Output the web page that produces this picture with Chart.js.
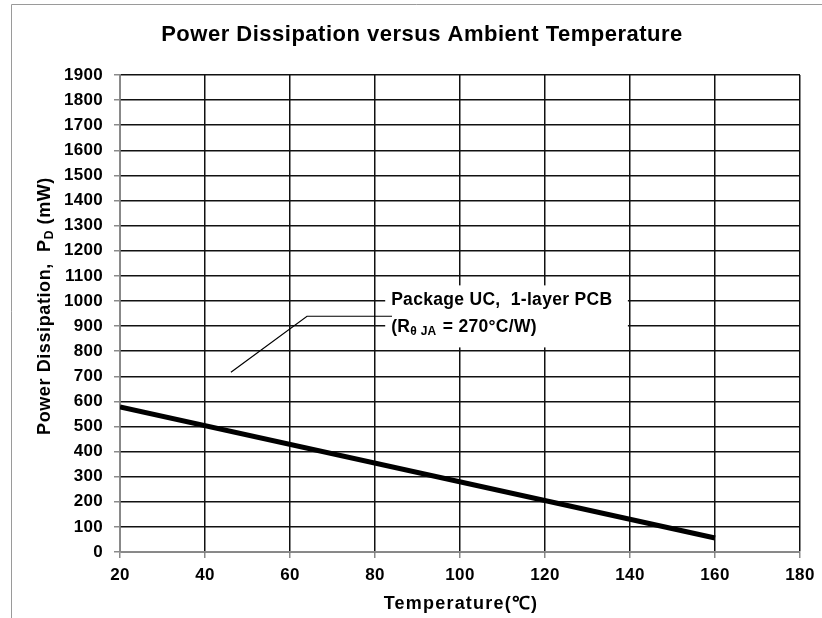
<!DOCTYPE html>
<html>
<head>
<meta charset="utf-8">
<script src="https://cdn.jsdelivr.net/npm/chart.js@4.4.1/dist/chart.umd.min.js"></script>
<style>
  html, body { margin: 0; padding: 0; background: #fff; }
  #wrap { position: relative; width: 822px; height: 618px; }
</style>
</head>
<body>
<div id="wrap"><canvas id="c" width="822" height="618"></canvas></div>
<script>
// ---- data ----
const temperatures = [20, 160];
const powerMW = [578, 56];
const xTicks = [20, 40, 60, 80, 100, 120, 140, 160, 180];
const yTicks = [0,100,200,300,400,500,600,700,800,900,1000,1100,1200,1300,1400,1500,1600,1700,1800,1900];
const chartTitle = 'Power Dissipation versus Ambient Temperature';
const xTitle = 'Temperature(\u2103)';
const yTitleMain = 'Power Dissipation,  P';
const yTitleSub = 'D';
const yTitleEnd = ' (mW)';
const noteLine1 = 'Package UC,  1-layer PCB';
const noteLine2Parts = ['(R', '\u03B8 JA', ' = 270\u00B0C/W)'];

const FONT = '"Liberation Sans", Arial, sans-serif';

const decor = {
  id: 'decor',
  beforeDraw(chart) {
    const ctx = chart.ctx;
    ctx.letterSpacing = '0.3px';
    ctx.save();
    ctx.fillStyle = '#fff';
    ctx.fillRect(0, 0, chart.width, chart.height);
    ctx.strokeStyle = '#9a9a9a';
    ctx.lineWidth = 1;
    ctx.beginPath();
    ctx.moveTo(11.5, 618);
    ctx.lineTo(11.5, 4.5);
    ctx.lineTo(822, 4.5);
    ctx.stroke();
    ctx.restore();
  },
  afterDraw(chart) {
    const ctx = chart.ctx;
    const xs = chart.scales.x, ys = chart.scales.y;
    ctx.save();
    ctx.fillStyle = '#000';
    // title
    ctx.letterSpacing = '0.5px';
    ctx.font = 'bold 22px ' + FONT;
    ctx.textAlign = 'center';
    ctx.textBaseline = 'middle';
    ctx.fillText(chartTitle, 422, 35);
    // x title
    ctx.letterSpacing = '1.2px';
    ctx.font = 'bold 18px ' + FONT;
    ctx.fillText(xTitle, 461, 604);
    // y title with subscript
    ctx.letterSpacing = '0.6px';
    ctx.translate(45, 306);
    ctx.rotate(-Math.PI / 2);
    ctx.textAlign = 'left';
    const fMain = 'bold 18px ' + FONT, fSub = 'bold 12px ' + FONT;
    ctx.font = fMain; const w1 = ctx.measureText(yTitleMain).width;
    ctx.font = fSub; const w2 = ctx.measureText(yTitleSub).width;
    ctx.font = fMain; const w3 = ctx.measureText(yTitleEnd).width;
    let x0 = -(w1 + w2 + w3) / 2;
    ctx.font = fMain; ctx.fillText(yTitleMain, x0, 0);
    ctx.font = fSub; ctx.fillText(yTitleSub, x0 + w1, 5);
    ctx.font = fMain; ctx.fillText(yTitleEnd, x0 + w1 + w2, 0);
    ctx.restore();

    // annotation (positions in data units)
    ctx.save();
    const bx1 = xs.getPixelForValue(82.4), bx2 = xs.getPixelForValue(139.5);
    const by1 = ys.getPixelForValue(1062), by2 = ys.getPixelForValue(815);
    ctx.fillStyle = '#fff';
    ctx.fillRect(bx1, by1, bx2 - bx1, by2 - by1);
    ctx.strokeStyle = '#000';
    ctx.lineWidth = 1.2;
    ctx.beginPath();
    ctx.moveTo(xs.getPixelForValue(46.1), ys.getPixelForValue(716));
    ctx.lineTo(xs.getPixelForValue(64), ys.getPixelForValue(939));
    ctx.lineTo(xs.getPixelForValue(84), ys.getPixelForValue(939));
    ctx.stroke();
    ctx.fillStyle = '#000';
    ctx.textAlign = 'left';
    ctx.textBaseline = 'middle';
    ctx.letterSpacing = '0.3px';
    const tx = xs.getPixelForValue(83.8);
    ctx.font = 'bold 17.5px ' + FONT;
    ctx.fillText(noteLine1, tx, ys.getPixelForValue(1002));
    const ty2 = ys.getPixelForValue(895);
    let cx = tx;
    ctx.fillText(noteLine2Parts[0], cx, ty2); cx += ctx.measureText(noteLine2Parts[0]).width;
    ctx.font = 'bold 12px ' + FONT;
    ctx.fillText(noteLine2Parts[1], cx, ty2 + 4); cx += ctx.measureText(noteLine2Parts[1]).width + 1;
    ctx.font = 'bold 17.5px ' + FONT;
    ctx.fillText(noteLine2Parts[2], cx, ty2);
    ctx.restore();
  }
};

const tickFont = { family: FONT, size: 17, weight: 'bold' };

new Chart(document.getElementById('c'), {
  type: 'line',
  data: {
    datasets: [{
      data: temperatures.map((t, i) => ({ x: t, y: powerMW[i] })),
      borderColor: '#000',
      borderWidth: 5,
      pointRadius: 0,
      fill: false,
      tension: 0
    }]
  },
  options: {
    responsive: false,
    animation: false,
    devicePixelRatio: 1,
    layout: { padding: { top: 75, right: 22, left: 0, bottom: 0 } },
    plugins: { legend: { display: false }, tooltip: { enabled: false }, title: { display: false } },
    scales: {
      x: {
        type: 'linear',
        min: 20, max: 180,
        afterBuildTicks(s) { s.ticks = xTicks.map(v => ({ value: v })); },
        afterFit(s) { s.height = 66; },
        grid: { color: '#111', lineWidth: 1.5, tickColor: '#8a8a8a', tickLength: 6 },
        border: { color: '#8a8a8a', width: 1.5 },
        ticks: { color: '#000', font: tickFont, padding: 7, maxRotation: 0, callback: v => String(v) }
      },
      y: {
        type: 'linear',
        min: 0, max: 1900,
        afterBuildTicks(s) { s.ticks = yTicks.map(v => ({ value: v })); },
        afterFit(s) { s.width = 120; },
        grid: { color: '#111', lineWidth: 1.5, tickColor: '#8a8a8a', tickLength: 6 },
        border: { color: '#8a8a8a', width: 1.5 },
        ticks: { color: '#000', font: tickFont, padding: 11, callback: v => String(v) }
      }
    }
  },
  plugins: [decor]
});
</script>
</body>
</html>
